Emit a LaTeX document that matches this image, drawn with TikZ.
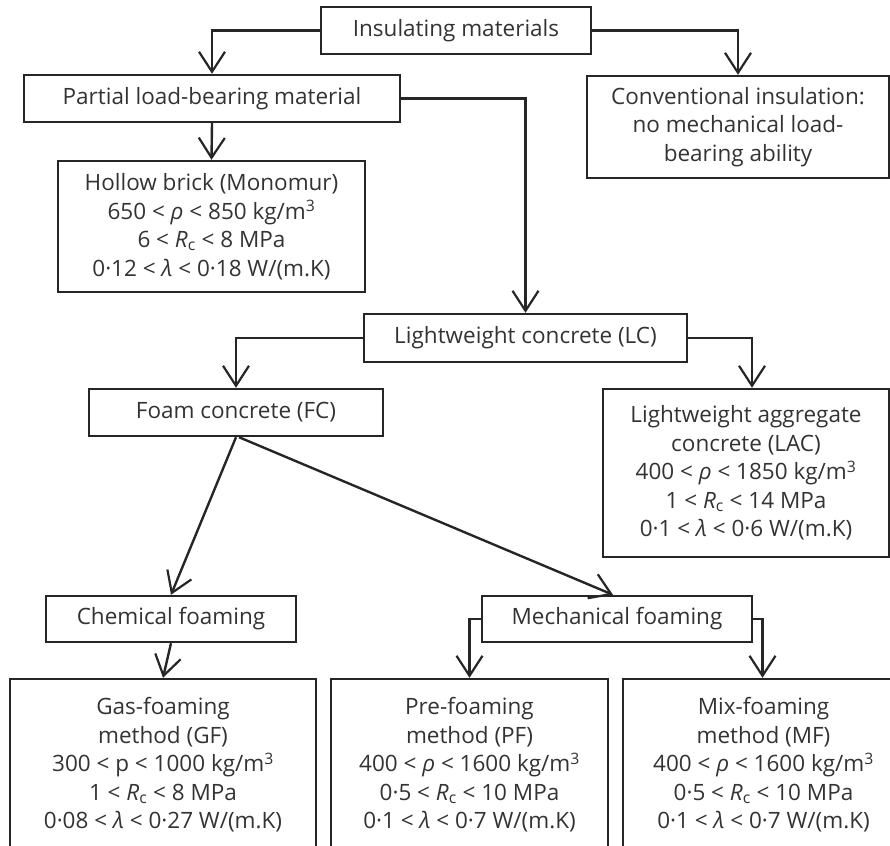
\documentclass[tikz,border=0pt]{standalone}
\usepackage{fontspec}
\setmainfont{Open Sans}
\usetikzlibrary{arrows.meta,calc}
\newcommand{\rr}{{\itshape ρ}}
\newcommand{\Rc}{{\itshape R}\textsubscript{c}}
\newcommand{\lm}{{\itshape λ}}
\begin{document}
\begin{tikzpicture}[x=1pt,y=-1pt,
  box/.style={draw=black!85,line width=2.4pt,align=center,text=black!80,
    font=\fontsize{22.5}{28.5}\selectfont,inner sep=0pt},
  conn/.style={draw=black!85,line width=2.4pt,
    -{Straight Barb[length=20pt,width=26pt,line width=2.2pt]}}]
\useasboundingbox (0,0) rectangle (890,845);
\begin{scope}
\clip (0,0) rectangle (890,845);
\node[box,minimum width=270pt,minimum height=47pt] (ins) at (456,30.5) {Insulating materials};
\node[box,minimum width=376pt,minimum height=47pt] (part) at (212,98.5) {Partial load-bearing material};
\node[box,minimum width=302pt,minimum height=102pt] (conv) at (738,127) {Conventional insulation:\\no mechanical load-\\bearing ability};
\node[box,minimum width=307pt,minimum height=131pt] (hollow) at (211.5,226.5) {Hollow brick (Monomur)\\650 < \rr{} < 850 kg/m\textsuperscript{3}\\6 < \Rc{} < 8 MPa\\0·12 < \lm{} < 0·18 W/(m.K)};
\node[box,minimum width=323pt,minimum height=48pt] (lc) at (525.5,338) {Lightweight concrete (LC)};
\node[box,minimum width=294pt,minimum height=47pt] (foam) at (236,412.5) {Foam concrete (FC)};
\node[box,minimum width=286pt,minimum height=168pt] (lac) at (746,473) {Lightweight aggregate\\concrete (LAC)\\400 < \rr{} < 1850 kg/m\textsuperscript{3}\\1 < \Rc{} < 14 MPa\\0·1 < \lm{} < 0·6 W/(m.K)};
\node[box,minimum width=250pt,minimum height=46pt] (chem) at (171,619) {Chemical foaming};
\node[box,minimum width=270pt,minimum height=46pt] (mech) at (617,619) {Mechanical foaming};
\node[box,minimum width=306pt,minimum height=172pt] (gf) at (163,765) {Gas-foaming\\method (GF)\\300 < p < 1000 kg/m\textsuperscript{3}\\1 < \Rc{} < 8 MPa\\0·08 < \lm{} < 0·27 W/(m.K)};
\node[box,minimum width=277pt,minimum height=172pt] (pf) at (469.5,765) {Pre-foaming\\method (PF)\\400 < \rr{} < 1600 kg/m\textsuperscript{3}\\0·5 < \Rc{} < 10 MPa\\0·1 < \lm{} < 0·7 W/(m.K)};
\node[box,minimum width=281pt,minimum height=172pt] (mf) at (763.5,765) {Mix-foaming\\method (MF)\\400 < \rr{} < 1600 kg/m\textsuperscript{3}\\0·5 < \Rc{} < 10 MPa\\0·1 < \lm{} < 0·7 W/(m.K)};
\draw[conn] (ins.west) -| (part.north);
\draw[conn] (ins.east) -| (conv.north);
\draw[conn] (part.east) -| (lc.north);
\draw[conn] (part.south) -- (hollow.north);
\draw[conn] (lc.west) -| (foam.north);
\draw[conn] (lc.east) -| ([xshift=6pt]lac.north);
\draw[conn] (foam.south) -- (chem.north);
\draw[conn] ([xshift=3pt]foam.south) -- ([xshift=-4pt]mech.north);
\draw[conn] (chem.south) -- (gf.north);
\draw[conn] (mech.west) -| (pf.north);
\draw[conn] (mech.east) -| ([xshift=-1pt]mf.north);
\end{scope}
\end{tikzpicture}
\end{document}
